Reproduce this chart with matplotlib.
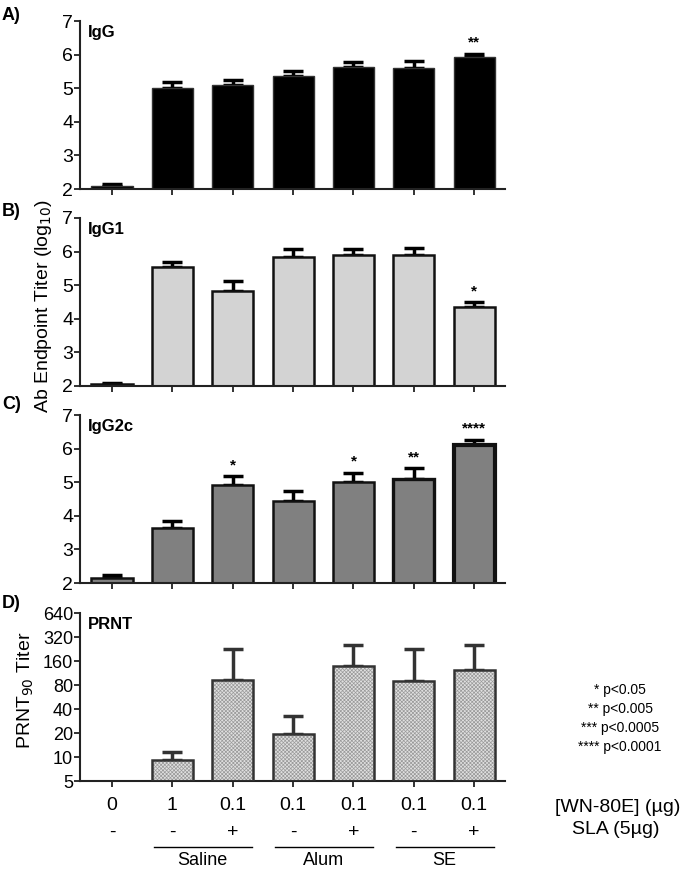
import matplotlib
matplotlib.use('Agg')
import matplotlib.pyplot as plt
import numpy as np
from matplotlib import font_manager

# data
groups = ['0', '1', '0.1', '0.1', '0.1', '0.1', '0.1']
sla = ['-', '-', '+', '-', '+', '-', '+']
adjuvants = ['Saline', 'Alum', 'SE']

igg = [2.08, 5.01, 5.10, 5.37, 5.62, 5.59, 5.92]
igg_err = [0.08, 0.16, 0.15, 0.15, 0.15, 0.21, 0.10]
igg_sig = ['', '', '', '', '', '', '**']

igg1 = [2.05, 5.53, 4.84, 5.85, 5.89, 5.89, 4.34]
igg1_err = [0.05, 0.15, 0.29, 0.23, 0.18, 0.21, 0.15]
igg1_sig = ['', '', '', '', '', '', '*']

igg2c = [2.14, 3.65, 4.92, 4.43, 5.01, 5.09, 6.11]
igg2c_err = [0.10, 0.20, 0.26, 0.30, 0.26, 0.32, 0.15]
igg2c_sig = ['', '', '*', '', '*', '**', '****']

prnt = [5, 9.2, 92, 19.4, 138, 89, 123]
prnt_err = [0, 2.2, 132, 13.6, 116, 135, 128]

footnote = ['* p<0.05', '** p<0.005', '*** p<0.0005', '**** p<0.0001']

names = {f.name for f in font_manager.fontManager.ttflist}
narrow = 'Liberation Sans Narrow' if 'Liberation Sans Narrow' in names else 'Liberation Sans'
plt.rcParams['font.family'] = ['Liberation Sans', 'DejaVu Sans']
plt.rcParams['hatch.linewidth'] = 0.5

W, H = 686, 869
fig = plt.figure(figsize=(W / 100, H / 100), dpi=100)

x = np.arange(len(groups))
left = 80 / W
width = 425 / W
ph = 168 / H
bottoms = [189, 386, 583, 781]


def style_axis(ax):
  for s in ['top', 'right']:
    ax.spines[s].set_visible(False)
  for s in ['left', 'bottom']:
    ax.spines[s].set_color('#222222')
    ax.spines[s].set_linewidth(1.5)
  ax.set_xlim(-0.53, 6.51)
  ax.set_xticks(x)
  ax.set_xticklabels([])
  ax.tick_params(axis='both', direction='out', length=4, width=1.3, color='#222222')
  ax.tick_params(axis='y', labelsize=14, pad=1)


def bar_panel(ax, vals, errs, sig, face, edge, title, lws):
  ax.bar(x, vals, width=0.68, color=face, edgecolor=edge, linewidth=lws, zorder=2)
  ax.errorbar(x, vals, yerr=[np.zeros(len(vals)), errs], fmt='none', ecolor='black',
              elinewidth=2.5, capsize=7, capthick=2.5, zorder=1)
  ax.set_ylim(2, 7)
  ax.set_yticks(range(2, 8))
  style_axis(ax)
  ax.text(0.019, 0.93, title, transform=ax.transAxes, fontsize=12, fontweight='bold', va='center')
  for i, s in enumerate(sig):
    if s:
      ax.annotate(s, (x[i], vals[i] + errs[i]), xytext=(0, 3), textcoords='offset points',
                  ha='center', va='bottom', fontsize=11, fontweight='bold')


axes = []
for b in bottoms:
  axes.append(fig.add_axes([left, 1 - b / H, width, ph]))

bar_panel(axes[0], igg, igg_err, igg_sig, 'black', '#333333', 'IgG', 1.0)
bar_panel(axes[1], igg1, igg1_err, igg1_sig, '#d3d3d3', '#111111', 'IgG1', 1.8)
bar_panel(axes[2], igg2c, igg2c_err, igg2c_sig, '#808080', '#111111', 'IgG2c',
          [1.8, 1.8, 1.8, 1.8, 1.8, 2.4, 3.0])

# PRNT panel, log2 scale
ax = axes[3]
pv = np.array(prnt, dtype=float)
pe = np.array(prnt_err, dtype=float)
edge_w = [1.8 if v > 5 else 0 for v in pv]
ax.bar(x, pv - 5, bottom=5, width=0.68, color='#e0e0e0', edgecolor='#9a9a9a',
       hatch='xxxxxxxxx', linewidth=0, zorder=2)
ax.bar(x, pv - 5, bottom=5, width=0.68, fill=False, edgecolor='#333333', linewidth=edge_w, zorder=3)
m = pe > 0
ax.errorbar(x[m], pv[m], yerr=[np.zeros(m.sum()), pe[m]], fmt='none', ecolor='#333333',
            elinewidth=2.5, capsize=7, capthick=2.5, zorder=1)
ax.set_yscale('log', base=2)
ax.set_ylim(5, 640)
ticks = [5, 10, 20, 40, 80, 160, 320, 640]
ax.set_yticks(ticks)
ax.set_yticklabels([str(t) for t in ticks])
ax.minorticks_off()
style_axis(ax)
ax.tick_params(axis='y', labelsize=13)
ax.text(0.019, 0.93, 'PRNT', transform=ax.transAxes, fontsize=12, fontweight='bold', va='center')

# labels under the last panel
tr = ax.get_xaxis_transform()
for i in range(len(groups)):
  ax.text(x[i], -0.145, groups[i], transform=tr, ha='center', va='center', fontsize=14, family=narrow)
  ax.text(x[i], -0.305, sla[i], transform=tr, ha='center', va='center', fontsize=14, family=narrow)
for k, name in enumerate(adjuvants):
  a, b = x[1 + 2 * k], x[2 + 2 * k]
  ax.plot([a - 0.3, b + 0.32], [-0.39, -0.39], transform=tr, color='black', lw=1, clip_on=False)
  ax.text((a + b) / 2, -0.475, name, transform=tr, ha='center', va='center', fontsize=13, family=narrow)

fig.text(618 / W, 1 - 808 / H, '[WN-80E] (µg)', ha='center', va='center', fontsize=14, family=narrow)
fig.text(616 / W, 1 - 829 / H, 'SLA (5µg)', ha='center', va='center', fontsize=14, family=narrow)
for i, line in enumerate(footnote):
  fig.text(620 / W, 1 - (690 + 19 * i) / H, line, ha='center', va='center', fontsize=10, family=narrow)

# panel letters and axis titles
for lab, y in zip(['A)', 'B)', 'C)', 'D)'], [15, 211, 405, 603]):
  fig.text(2 / W, 1 - y / H, lab, ha='left', va='center', fontsize=13, fontweight='bold')
fig.text(43 / W, 1 - 306 / H, 'Ab Endpoint Titer (log$_{10}$)', rotation=90, ha='center', va='center',
         fontsize=14)
fig.text(26 / W, 1 - 690 / H, 'PRNT$_{90}$ Titer', rotation=90, ha='center', va='center',
         fontsize=14)

fig.savefig('out.png', dpi=100)
